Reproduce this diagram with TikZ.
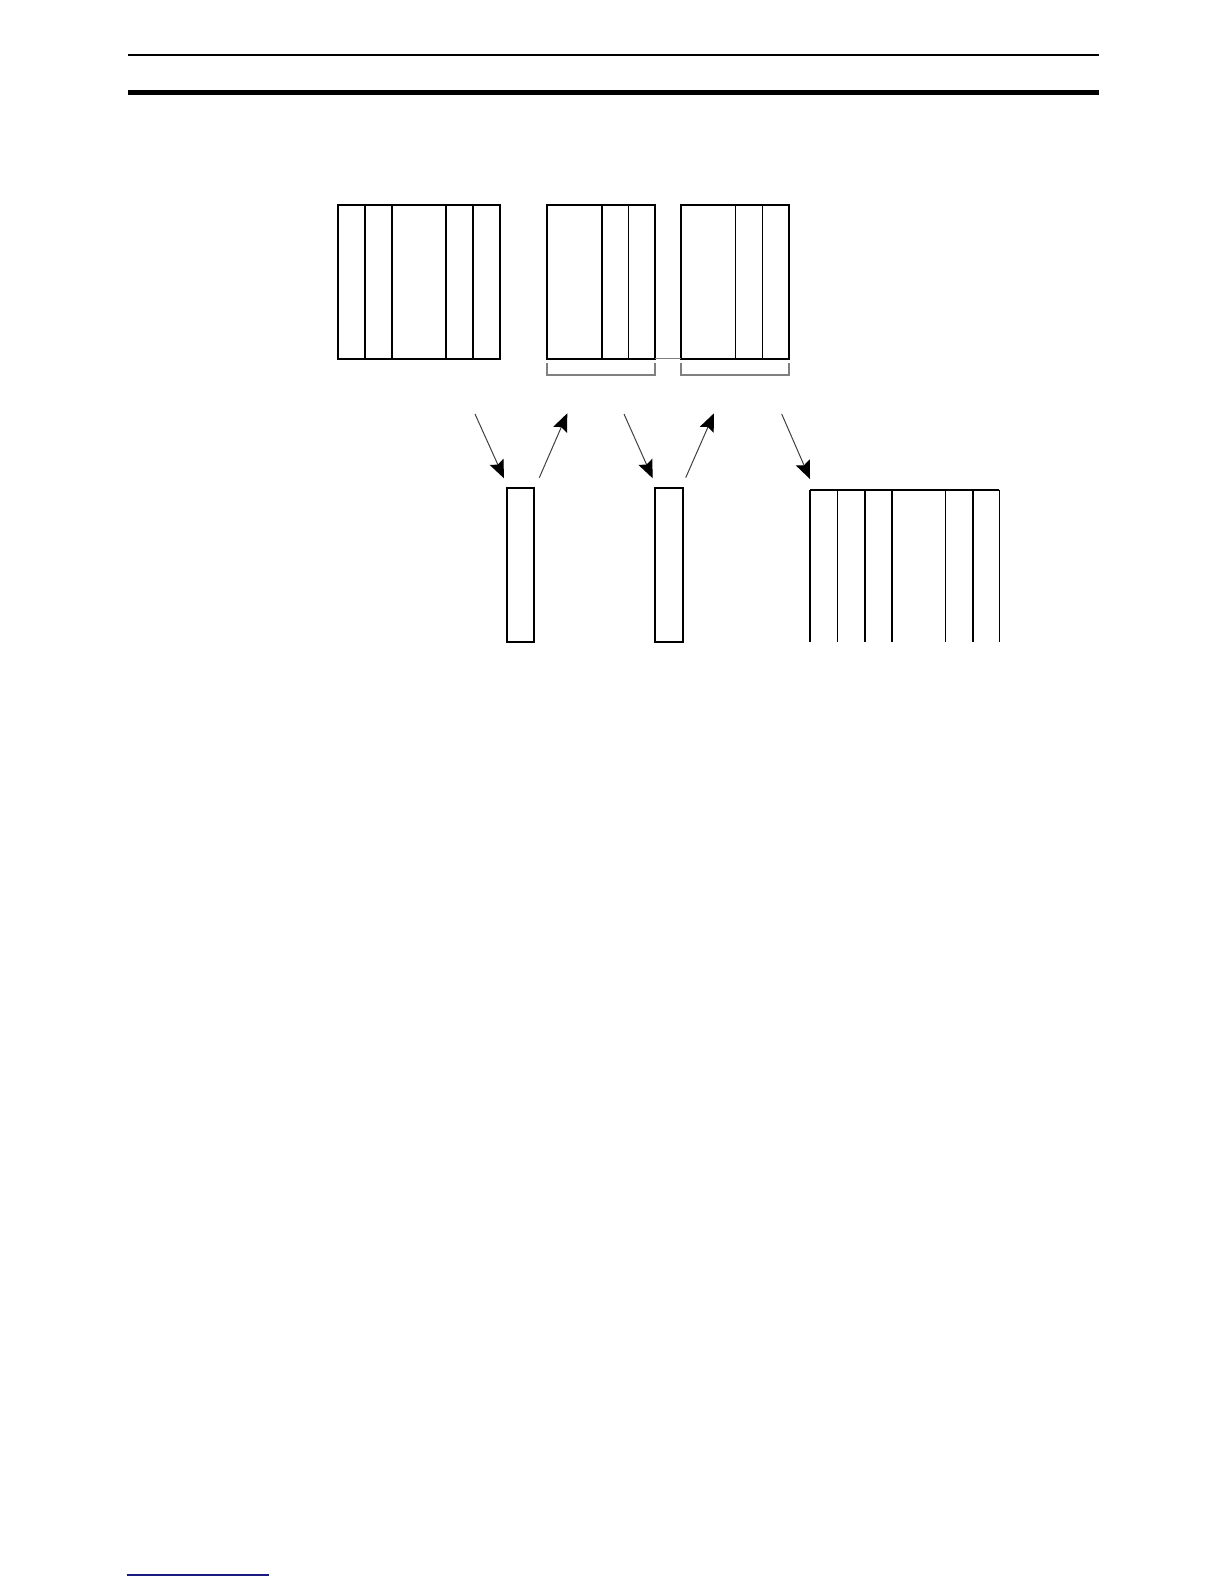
\documentclass[tikz,border=0pt]{standalone}
\usepackage{tikz}
\usetikzlibrary{arrows.meta}
\definecolor{rulenavy}{HTML}{1A1A80}
\definecolor{bracegray}{HTML}{808080}

\begin{document}
\begin{tikzpicture}[x=0.5pt,y=-0.5pt,
  frame/.style={draw,line width=1pt},
  divider/.style={line width=0.8pt},
  bracket/.style={draw=bracegray,line width=0.9pt},
  flow/.style={draw=black!75,line width=0.5pt,
    -{Stealth[length=9pt,width=7.5pt,inset=1.5pt,color=black]}}]
\useasboundingbox (0,0) rectangle (1224,1584);

% Header rules
\draw[line width=1pt] (128,54.7) -- (1099,54.7);
\draw[line width=2.3pt] (128,92.3) -- (1099,92.3);

% Upper left block
\draw[frame] (337.7,204.7) rectangle (500.3,358.7);
\foreach \x in {365,392,446,473}
  \draw[divider] (\x,204.7) -- (\x,358.7);

% Upper middle and right blocks
\draw[frame] (546.7,204.7) rectangle (655,358.5);
\foreach \x in {601.7,628.3}
  \draw[divider] (\x,204.7) -- (\x,358.5);
\draw[frame] (681,204.7) rectangle (789.3,358.5);
\foreach \x in {735.3,762.3}
  \draw[divider] (\x,204.7) -- (\x,358.5);
\draw[draw=bracegray,line width=0.4pt] (655,358.5) -- (681,358.5);

% Brackets
\draw[bracket] (546.7,363.3) -- (546.7,375) -- (655,375) -- (655,363.3);
\draw[bracket] (681,363.3) -- (681,375) -- (789.3,375) -- (789.3,363.3);

% Single cells
\draw[frame] (507,488.3) rectangle (534.3,642);
\draw[frame] (655,488.3) rectangle (683,642);

% Lower right block (open at bottom)
\draw[frame] (810,490) -- (999.3,490);
\foreach \x in {810,837.3,864.7,892,945.3,972.7,999.3}
  \draw[divider] (\x,490) -- (\x,642.3);

% Arrows
\coordinate (a1s) at (475,414);   \coordinate (a1e) at (504,478.3);
\coordinate (a2s) at (539.3,477.7); \coordinate (a2e) at (567.3,413.3);
\coordinate (a3s) at (624,414);   \coordinate (a3e) at (652.7,478.3);
\coordinate (a4s) at (685.7,477.7); \coordinate (a4e) at (714,413.3);
\coordinate (a5s) at (781.7,414); \coordinate (a5e) at (810,479);
\foreach \n in {1,...,5}
  \draw[flow] (a\n s) -- (a\n e);

% Footer rule
\draw[draw=rulenavy,line width=0.6pt] (126.7,1575) -- (269,1575);
\end{tikzpicture}
\end{document}
